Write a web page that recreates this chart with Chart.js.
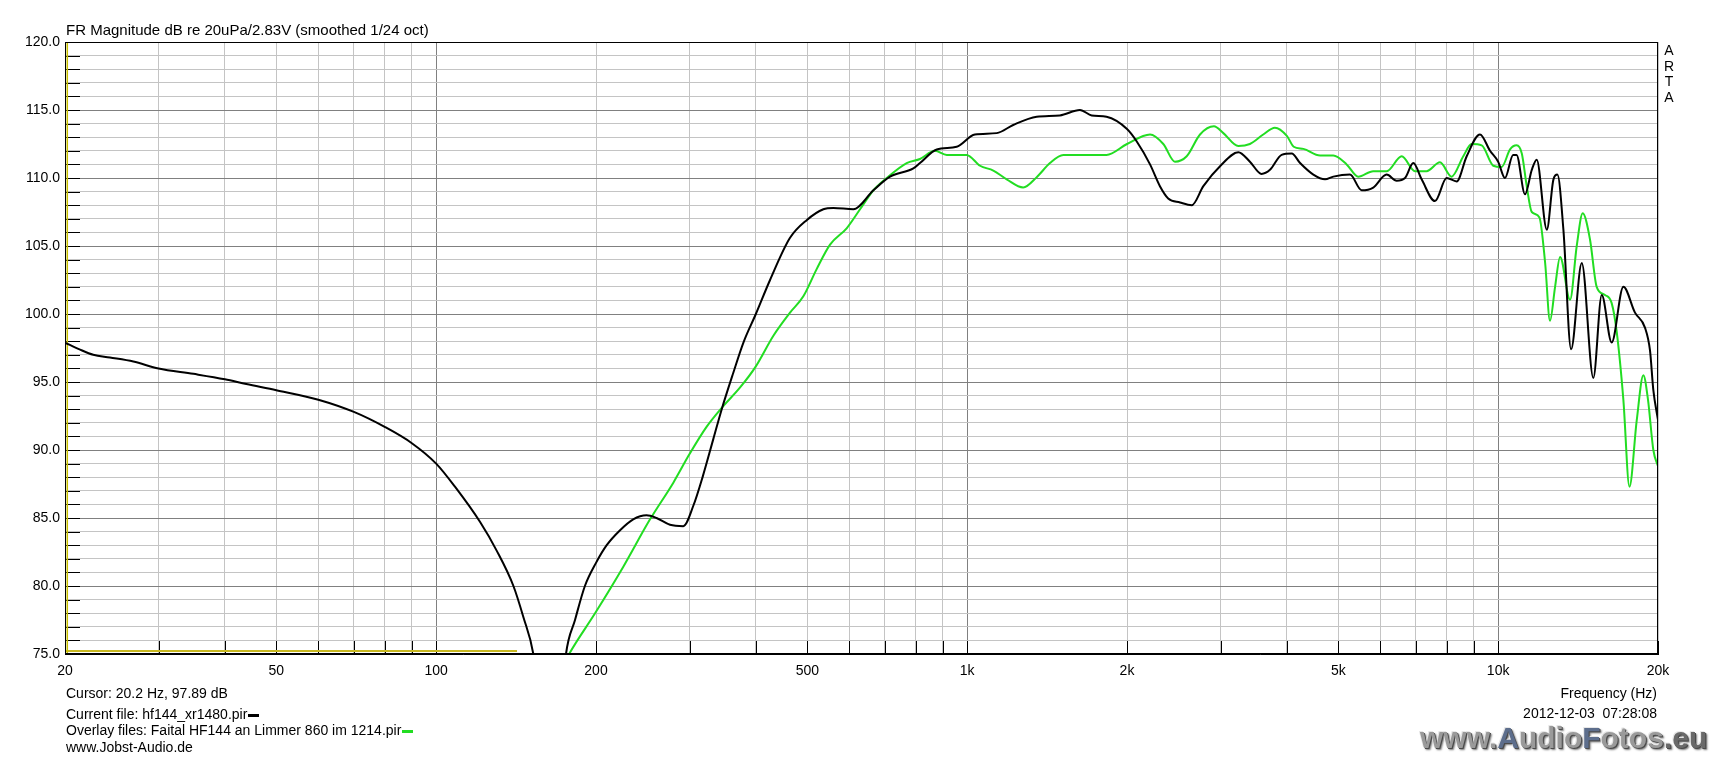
<!DOCTYPE html>
<html>
<head>
<meta charset="utf-8">
<title>FR Magnitude</title>
<script src="https://cdn.jsdelivr.net/npm/chart.js@4.4.1/dist/chart.umd.min.js"></script>
<style>
  body { margin: 0; background: #fff; }
  #wrap { position: relative; width: 1722px; height: 760px; font-family: "Liberation Sans", Arial, sans-serif; color: #000; }
  #chart { position: absolute; left: 0; top: 0; }
  .txt { position: absolute; font-size: 14px; line-height: 16px; white-space: pre; }
  .dash { display: inline-block; width: 11px; height: 3px; vertical-align: middle; margin-left: 1px; }
  #arta { position: absolute; left: 1663px; top: 43px; width: 12px; font-size: 14px; line-height: 15.5px; text-align: center; }
  #mark { position: absolute; left: 1420px; top: 723px; font-size: 30px; line-height: 30px; font-weight: bold; white-space: pre;
          color: #9a9a9a; text-shadow: 1px 1px 0 #4a4a4a, -1px -1px 0 #e6e6e6, 2px 2px 2px #777; }
  #mark .b { color: #5d6e8c; }
  #mark .d { color: #6a6a6a; }
</style>
</head>
<body>
<div id="wrap">
  <canvas id="chart" width="1722" height="760"></canvas>
  <div class="txt" style="left:66px; top:21px; font-size:15px; line-height:18px;">FR Magnitude dB re 20uPa/2.83V (smoothed 1/24 oct)</div>
  <div id="arta">A<br>R<br>T<br>A</div>
  <div class="txt" style="left:66px; top:685px;">Cursor: 20.2 Hz, 97.89 dB</div>
  <div class="txt" style="left:66px; top:706px;">Current file: hf144_xr1480.pir<span class="dash" style="background:#000"></span></div>
  <div class="txt" style="left:66px; top:722px;">Overlay files: Faital HF144 an Limmer 860 im 1214.pir<span class="dash" style="background:#22dd22"></span></div>
  <div class="txt" style="left:66px; top:739px;">www.Jobst-Audio.de</div>
  <div class="txt" style="right:65px; top:685px;">Frequency (Hz)</div>
  <div class="txt" style="right:65px; top:705px;">2012-12-03  07:28:08</div>
  <div id="mark">www.<span class="b">A</span>udio<span class="b">F</span>otos<span class="d">.eu</span></div>
</div>
<script>
// current file (black)
const blackFreq = [20, 21.3, 22.6, 24.3, 26.9, 30, 34.9, 40, 43.9, 50, 60, 70, 80, 90, 100,
  108.5, 121, 130, 139.8, 146, 152.4, 158, 165, 171, 175.6, 182.6, 190.6, 200, 209.5, 222,
  235, 249, 260, 275.7, 292, 305, 318, 332.6, 345, 362.9, 379, 400, 425.4, 463.9, 498.6,
  536, 559.8, 610.4, 666, 715.8, 791.9, 815, 876.5, 955.7, 1034, 1137, 1221, 1352, 1495,
  1631, 1716, 1830, 2000, 2085, 2210, 2307, 2391, 2517, 2648, 2785, 3000, 3241, 3408,
  3585, 3718, 3910, 4086, 4236, 4487, 4720, 4893, 5260, 5531, 5818, 6167, 6440, 6677,
  6922, 7177, 7604, 7998, 8354, 8725, 9243, 9654, 10000, 10300, 10670, 10830, 11235,
  11570, 11820, 12350, 12710, 12930, 13270, 13720, 14370, 15110, 15670, 16360, 17210,
  18100, 18900, 19320, 19600, 20000];
const blackDb = [97.9, 97.4, 97.0, 96.8, 96.5, 96.0, 95.6, 95.2, 94.85, 94.4, 93.7, 92.8, 91.7, 90.5, 89.0,
  87.3, 84.7, 82.6, 80.0, 77.7, 75.0, 70, 64, 70, 75.0, 77.5, 80.0, 81.7, 83.0, 84.1,
  84.9, 85.2, 85.0, 84.5, 84.4, 85.9, 88.1, 90.8, 93.0, 95.7, 97.9, 100.0, 102.5, 105.6, 106.9,
  107.7, 107.8, 107.7, 109.1, 110.1, 110.7, 111.1, 112.1, 112.3, 113.2, 113.3, 113.9, 114.5, 114.6,
  115.0, 114.6, 114.5, 113.6, 112.7, 111.0, 109.4, 108.5, 108.2, 108.0, 109.4, 110.9, 111.9, 111.2,
  110.3, 110.6, 111.7, 111.8, 111.1, 110.25, 109.9, 110.1, 110.25, 109.1, 109.3, 110.25, 109.8, 110.0,
  111.1, 109.9, 108.3, 110.0, 109.75, 111.6, 113.2, 112.0, 111.2, 110.0, 111.7, 111.7, 108.8,
  110.6, 111.35, 106.2, 109.9, 110.25, 106.2, 97.4, 103.75, 95.3, 101.4, 97.9, 102.0,
  100.1, 99.0, 97.3, 94.4, 92.2];

// overlay file (green)
const greenFreq = [165, 178, 200, 225, 252.8, 279.7, 300, 323, 345, 373.6, 400, 431.6, 463.9,
  491.5, 520.7, 551.8, 593, 628.5, 666, 705.5, 769.4, 815, 869.6, 915.5, 997.6, 1057.5,
  1120, 1187, 1275, 1352, 1432, 1517, 1655, 1830, 2000, 2210, 2341, 2462, 2591, 2745,
  2916, 3037, 3241, 3408, 3611, 3798, 4000, 4121, 4297, 4620, 4893, 5184, 5451, 5818,
  6167, 6582, 6973, 7331, 7771, 8171, 8597, 8913, 9311, 9794, 10150, 10530, 10830, 11080,
  11320, 11570, 11960, 12260, 12520, 12800, 13080, 13660, 14060, 14430, 14890, 15330,
  15890, 16360, 16720, 17210, 17670, 18240, 18770, 19150, 19600, 20000];
const greenDb = [72.5, 75.0, 78.1, 81.4, 84.9, 87.6, 89.7, 91.7, 93.1, 94.6, 96.15, 98.4, 100.1,
  101.3, 103.3, 105.1, 106.3, 107.7, 109.1, 110.0, 111.1, 111.4, 112.0, 111.7, 111.7, 110.9,
  110.55, 109.9, 109.3, 110.06, 111.1, 111.7, 111.7, 111.7, 112.5, 113.2, 112.5, 111.2, 111.6, 113.2,
  113.8, 113.3, 112.35, 112.5, 113.2, 113.7, 113.1, 112.3, 112.14, 111.65, 111.65, 111.0, 110.1, 110.5,
  110.5, 111.6, 110.5, 110.5, 111.15, 110.1, 111.6, 112.5, 112.4, 110.9, 110.8, 112.1, 112.4, 111.8,
  109.4, 107.5, 107.1, 103.75, 99.5, 102.0, 104.2, 101.05, 105.0, 107.4, 105.5, 102.0,
  101.4, 100.8, 98.7, 93.7, 87.3, 92.2, 95.5, 93.7, 90.0, 88.8];

// yellow cursor and marker
const cursorFreq = [20.2, 20.2];
const cursorDb = [75, 120];
const markerFreq = [20, 142];
const markerDb = [75.22, 75.22];

// axes
const xGridFreqs = [20, 30, 40, 50, 60, 70, 80, 90, 100, 200, 300, 400, 500, 600, 700, 800, 900,
  1000, 2000, 3000, 4000, 5000, 6000, 7000, 8000, 9000, 10000, 20000];
const xLabelFreqs = [20, 50, 100, 200, 500, 1000, 2000, 5000, 10000, 20000];
const xLabelText = ['20', '50', '100', '200', '500', '1k', '2k', '5k', '10k', '20k'];
const decades = [100, 1000, 10000];

const pts = (fs, ds) => fs.map((f, i) => ({ x: f, y: ds[i] }));

const frameTicks = {
  id: 'frameTicks',
  beforeDatasetsDraw(chart) {
    const { ctx, chartArea: a, scales: { x, y } } = chart;
    ctx.save();
    ctx.strokeStyle = '#000';
    ctx.lineWidth = 1;
    ctx.beginPath();
    y.ticks.forEach(t => {
      const py = Math.round(y.getPixelForValue(t.value)) + 0.5;
      ctx.moveTo(a.left, py);
      ctx.lineTo(a.left + 15, py);
    });
    x.ticks.forEach(t => {
      const px = Math.round(x.getPixelForValue(t.value)) + 0.5;
      ctx.moveTo(px, a.bottom);
      ctx.lineTo(px, a.bottom - 13);
    });
    ctx.stroke();
    ctx.restore();
  },
  afterDatasetsDraw(chart) {
    const { ctx, chartArea: a } = chart;
    ctx.save();
    ctx.strokeStyle = '#000';
    ctx.lineWidth = 1;
    ctx.strokeRect(a.left + 0.5, a.top + 0.5, a.width - 1, a.height - 1);
    ctx.restore();
  }
};

Chart.defaults.font.family = '"Liberation Sans", Arial, sans-serif';
Chart.defaults.font.size = 14;
Chart.defaults.color = '#000';

new Chart(document.getElementById('chart'), {
  type: 'line',
  data: {
    datasets: [
      { data: pts(blackFreq, blackDb), borderColor: '#000000', borderWidth: 2, order: 0, cubicInterpolationMode: 'monotone' },
      { data: pts(greenFreq, greenDb), borderColor: '#22dd22', borderWidth: 2, order: 1, cubicInterpolationMode: 'monotone' },
      { data: pts(cursorFreq, cursorDb), borderColor: '#c8c000', borderWidth: 1.5, order: 2 },
      { data: pts(markerFreq, markerDb), borderColor: '#c8b820', borderWidth: 2, order: 2 }
    ]
  },
  options: {
    responsive: false,
    animation: false,
    devicePixelRatio: 1,
    elements: { point: { radius: 0 }, line: { tension: 0 } },
    layout: { padding: { top: 42, right: 64, left: 0, bottom: 0 } },
    plugins: { legend: { display: false }, tooltip: { enabled: false } },
    scales: {
      x: {
        type: 'logarithmic',
        min: 20,
        max: 20000,
        afterBuildTicks: s => { s.ticks = xGridFreqs.map(v => ({ value: v })); },
        afterFit: s => { s.height = 106; },
        border: { color: '#000' },
        grid: {
          drawTicks: false,
          color: c => decades.includes(c.tick && c.tick.value) ? '#808080' : '#c4c4c4'
        },
        ticks: {
          autoSkip: false,
          maxRotation: 0,
          minRotation: 0,
          padding: 9,
          callback: v => {
            const i = xLabelFreqs.indexOf(v);
            return i < 0 ? '' : xLabelText[i];
          }
        }
      },
      y: {
        min: 75,
        max: 120,
        afterFit: s => { s.width = 65; },
        border: { color: '#000' },
        grid: {
          drawTicks: false,
          color: c => (c.tick && c.tick.value % 5 === 0) ? '#808080' : '#c4c4c4'
        },
        ticks: {
          stepSize: 1,
          autoSkip: false,
          padding: 5,
          callback: v => (v % 5 === 0 ? v.toFixed(1) : '')
        }
      }
    }
  },
  plugins: [frameTicks]
});
</script>
</body>
</html>
